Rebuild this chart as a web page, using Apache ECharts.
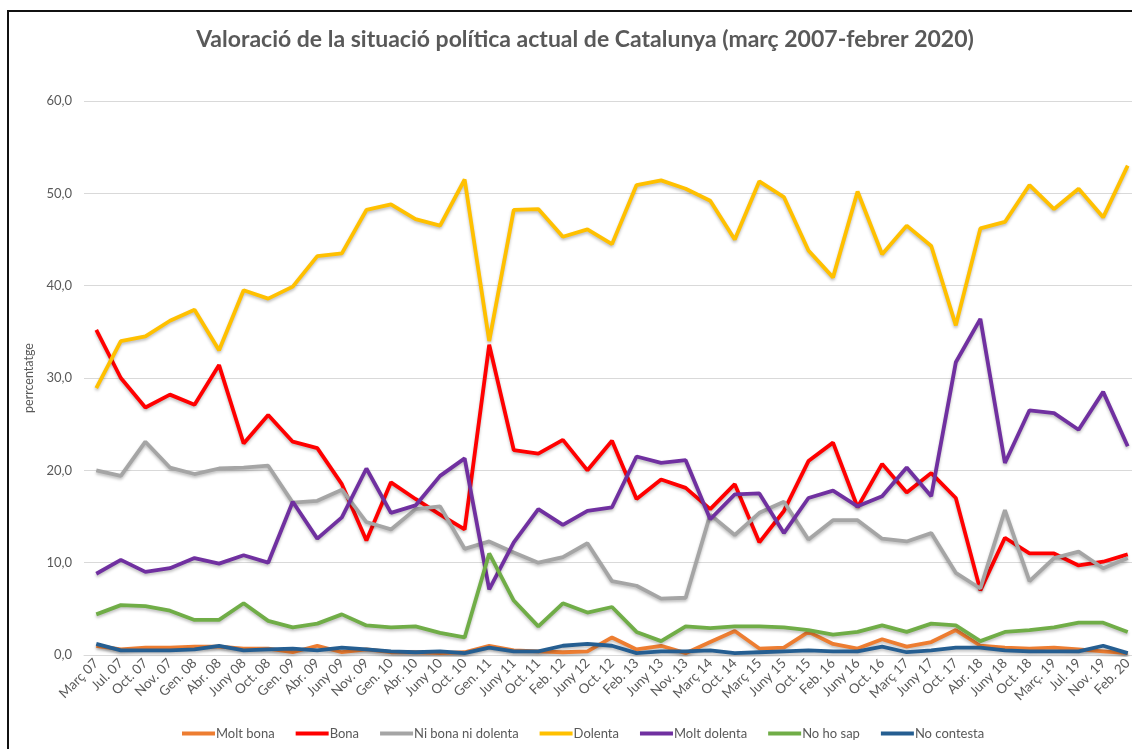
<!DOCTYPE html>
<html>
<head>
<meta charset="utf-8">
<title>Valoració de la situació política actual de Catalunya</title>
<script src="https://cdn.jsdelivr.net/npm/echarts@6/dist/echarts.min.js"></script>
<style>
  html, body { margin: 0; padding: 0; background: #fff; overflow: hidden; }
  #chart { position: absolute; left: 0; top: 0; width: 1140px; height: 749px; }
  #frame {
    position: absolute; left: 7px; top: 10px; width: 1200px; height: 800px;
    border-left: 2px solid #111; border-top: 2px solid #111; pointer-events: none;
  }
</style>
</head>
<body>
<div id="chart"></div>
<div id="frame"></div>
<script>
const categories = [
  "Març 07", "Jul. 07", "Oct. 07", "Nov. 07", "Gen. 08", "Abr. 08", "Juny 08", "Oct. 08",
  "Gen. 09", "Abr. 09", "Juny 09", "Nov. 09", "Gen. 10", "Abr. 10", "Juny 10", "Oct. 10",
  "Gen. 11", "Juny 11", "Oct. 11", "Feb. 12", "Juny 12", "Oct. 12", "Feb. 13", "Juny 13",
  "Nov. 13", "Març 14", "Oct. 14", "Març 15", "Juny 15", "Oct. 15", "Feb. 16", "Juny 16",
  "Oct. 16", "Març 17", "Juny 17", "Oct. 17", "Abr. 18", "Juny 18", "Oct. 18", "Març. 19",
  "Jul. 19", "Nov. 19", "Feb. 20"
];

const moltBona = [
  1.0, 0.6, 0.8, 0.8, 0.9, 0.9, 0.7, 0.7, 0.3, 1.0, 0.3, 0.6, 0.3, 0.3, 0.2, 0.3,
  1.0, 0.5, 0.4, 0.3, 0.4, 1.9, 0.6, 1.0, 0.2, 1.4, 2.6, 0.7, 0.8, 2.5, 1.2, 0.7,
  1.7, 0.9, 1.4, 2.7, 1.0, 0.8, 0.7, 0.8, 0.6, 0.4, 0.2
];
const bona = [
  35.2, 30.0, 26.8, 28.2, 27.1, 31.4, 22.9, 26.0, 23.1, 22.4, 18.5, 12.4, 18.7, 16.9, 15.2, 13.6,
  33.6, 22.2, 21.8, 23.3, 20.0, 23.2, 16.9, 19.0, 18.1, 15.8, 18.5, 12.2, 15.6, 21.0, 23.0, 16.0,
  20.7, 17.6, 19.7, 17.0, 7.0, 12.7, 11.0, 11.0, 9.7, 10.1, 10.9
];
const niBona = [
  20.0, 19.4, 23.1, 20.3, 19.6, 20.2, 20.3, 20.5, 16.5, 16.7, 17.9, 14.4, 13.6, 15.8, 16.1, 11.5,
  12.3, 11.1, 10.0, 10.6, 12.1, 8.0, 7.5, 6.1, 6.2, 15.2, 13.0, 15.4, 16.6, 12.5, 14.6, 14.6,
  12.6, 12.3, 13.2, 8.9, 7.2, 15.7, 8.0, 10.5, 11.2, 9.4, 10.5
];
const dolenta = [
  28.9, 34.0, 34.5, 36.2, 37.4, 33.0, 39.5, 38.6, 39.9, 43.2, 43.5, 48.2, 48.8, 47.2, 46.5, 51.5,
  34.0, 48.2, 48.3, 45.3, 46.1, 44.5, 50.9, 51.4, 50.5, 49.2, 45.0, 51.3, 49.6, 43.8, 40.9, 50.2,
  43.4, 46.5, 44.3, 35.7, 46.2, 46.9, 50.9, 48.3, 50.5, 47.4, 53.0
];
const moltDolenta = [
  8.8, 10.3, 9.0, 9.4, 10.5, 9.9, 10.8, 10.0, 16.6, 12.6, 14.9, 20.2, 15.4, 16.2, 19.4, 21.3,
  7.1, 12.2, 15.8, 14.1, 15.6, 16.0, 21.5, 20.8, 21.1, 14.7, 17.4, 17.5, 13.2, 17.0, 17.8, 16.1,
  17.2, 20.3, 17.2, 31.7, 36.4, 20.8, 26.5, 26.2, 24.4, 28.5, 22.6
];
const noHoSap = [
  4.4, 5.4, 5.3, 4.8, 3.8, 3.8, 5.6, 3.7, 3.0, 3.4, 4.4, 3.2, 3.0, 3.1, 2.4, 1.9,
  11.0, 5.9, 3.1, 5.6, 4.6, 5.2, 2.5, 1.5, 3.1, 2.9, 3.1, 3.1, 3.0, 2.7, 2.2, 2.5,
  3.2, 2.5, 3.4, 3.2, 1.5, 2.5, 2.7, 3.0, 3.5, 3.5, 2.5
];
const noContesta = [
  1.2, 0.5, 0.5, 0.5, 0.6, 1.0, 0.5, 0.6, 0.7, 0.5, 0.8, 0.6, 0.4, 0.3, 0.4, 0.2,
  0.8, 0.4, 0.4, 1.0, 1.2, 1.0, 0.2, 0.4, 0.4, 0.5, 0.2, 0.3, 0.4, 0.5, 0.4, 0.4,
  0.9, 0.3, 0.5, 0.8, 0.8, 0.5, 0.4, 0.4, 0.4, 1.0, 0.2
];

const seriesNames = ["Molt bona", "Bona", "Ni bona ni dolenta", "Dolenta", "Molt dolenta", "No ho sap", "No contesta"];
const seriesData = [moltBona, bona, niBona, dolenta, moltDolenta, noHoSap, noContesta];
const colors = ["#ed7d31", "#ff0000", "#a5a5a5", "#ffc000", "#7030a0", "#70ad47", "#255e91"];

const font = "Lato, 'Open Sans', sans-serif";
const textColor = "#595959";

const chart = echarts.init(document.getElementById("chart"), null, { renderer: "canvas" });

chart.setOption({
  animation: false,
  color: colors,
  title: {
    text: "Valoració de la situació política actual de Catalunya (març 2007-febrer 2020)",
    left: 580,
    textAlign: "center",
    top: 23,
    textStyle: { fontFamily: font, fontSize: 23, fontWeight: "bold", color: "#595959" }
  },
  legend: {
    bottom: 4,
    left: 177,
    icon: "rect",
    itemWidth: 33,
    itemHeight: 4,
    itemGap: 21,
    textStyle: { fontFamily: font, fontSize: 13, color: textColor, padding: [0, 0, 0, -4] },
    data: seriesNames
  },
  grid: {
    left: 84,
    right: 0,
    top: 101,
    bottom: 94,
    containLabel: false
  },
  xAxis: {
    type: "category",
    data: categories,
    boundaryGap: true,
    axisLine: { lineStyle: { color: "#d9d9d9", width: 1 } },
    axisTick: { show: false },
    axisLabel: {
      interval: 0,
      rotate: 45,
      margin: 6,
      fontFamily: font,
      fontSize: 13.5,
      color: textColor
    }
  },
  yAxis: {
    type: "value",
    min: 0,
    max: 60,
    interval: 10,
    name: "perrcentatge",
    nameLocation: "middle",
    nameGap: 46,
    nameTextStyle: { fontFamily: font, fontSize: 12.5, color: textColor },
    axisLine: { show: false },
    axisTick: { show: false },
    axisLabel: {
      margin: 12,
      fontFamily: font,
      fontSize: 13,
      color: textColor,
      formatter: (v) => v.toFixed(1).replace(".", ",")
    },
    splitLine: { lineStyle: { color: "#d9d9d9", width: 1 } }
  },
  series: seriesNames.map((name, i) => ({
    name,
    type: "line",
    data: seriesData[i],
    showSymbol: false,
    symbol: "none",
    lineStyle: {
      width: 3.8,
      shadowColor: "rgba(0,0,0,0.25)",
      shadowBlur: 3,
      shadowOffsetY: 2
    }
  }))
});
</script>
</body>
</html>
